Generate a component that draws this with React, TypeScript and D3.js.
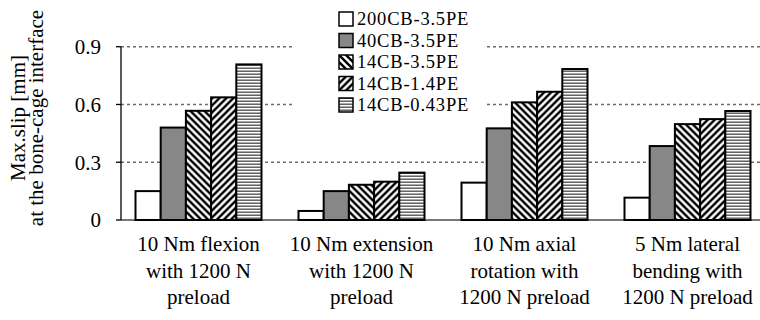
import React from "react";
import * as d3 from "d3";

// categories (x axis), one label per line
const categories = [
  ["10 Nm flexion", "with 1200 N", "preload"],
  ["10 Nm extension", "with 1200 N", "preload"],
  ["10 Nm axial", "rotation with", "1200 N preload"],
  ["5 Nm lateral", "bending with", "1200 N preload"],
];
const seriesNames = ["200CB-3.5PE", "40CB-3.5PE", "14CB-3.5PE", "14CB-1.4PE", "14CB-0.43PE"];
// values per series, one per category
const s200CB_35PE = [0.15, 0.047, 0.194, 0.116];
const s40CB_35PE = [0.48, 0.15, 0.476, 0.384];
const s14CB_35PE = [0.567, 0.183, 0.611, 0.498];
const s14CB_14PE = [0.637, 0.199, 0.666, 0.524];
const s14CB_043PE = [0.808, 0.246, 0.784, 0.566];
const yTicks = [0, 0.3, 0.6, 0.9];

const series = [s200CB_35PE, s40CB_35PE, s14CB_35PE, s14CB_14PE, s14CB_043PE];
const fills = ["#fff", "url(#pGray)", "url(#pBack)", "url(#pFwd)", "url(#pHoriz)"];

export default function App() {
  const width = 760;
  const height = 320;
  const axisX = 121;
  const font = "'Liberation Serif', 'Times New Roman', serif";
  const fs = 21;

  const x = d3
    .scaleBand()
    .domain(categories.map((d, i) => String(i)))
    .range([117, 769])
    .paddingInner(0.227)
    .paddingOuter(0.1135);
  const xs = d3
    .scaleBand()
    .domain(seriesNames)
    .range([0, x.bandwidth()]);
  const y = d3.scaleLinear().domain([0, 0.9]).range([220, 46.7]);

  return (
    <svg width={width} height={height} style={{ position: "absolute", left: 0, top: 0, background: "#fff" }}>
      <defs>
        <pattern id="pGray" width={2} height={2} patternUnits="userSpaceOnUse">
          <rect width={2} height={2} fill="#a8a8a8" />
          <rect width={1} height={1} fill="#666" />
          <rect x={1} y={1} width={1} height={1} fill="#666" />
        </pattern>
        <pattern id="pBack" width={7} height={7} patternUnits="userSpaceOnUse">
          <rect width={7} height={7} fill="#fff" />
          <path d="M-1,-1 L8,8 M-8,-1 L1,8 M6,-1 L15,8" stroke="#000" strokeWidth={2.4} />
        </pattern>
        <pattern id="pFwd" width={7} height={7} patternUnits="userSpaceOnUse">
          <rect width={7} height={7} fill="#fff" />
          <path d="M-1,8 L8,-1 M-8,8 L1,-1 M6,8 L15,-1" stroke="#000" strokeWidth={2.4} />
        </pattern>
        <pattern id="pHoriz" width={3} height={3} patternUnits="userSpaceOnUse">
          <rect width={3} height={3} fill="#fff" />
          <rect y={1.5} width={3} height={1.4} fill="#555" />
        </pattern>
      </defs>

      {/* gridlines */}
      {yTicks.slice(1).map((t) => (
        <line key={t} x1={axisX} x2={width} y1={y(t)} y2={y(t)} stroke="#6e6e6e" strokeWidth={1.6} strokeDasharray="3,3" />
      ))}
      {/* baseline */}
      <line x1={axisX} x2={width} y1={y(0)} y2={y(0)} stroke="#777" strokeWidth={2} />

      {/* bars */}
      {categories.map((c, i) => (
        <g key={i} transform={`translate(${x(String(i))},0)`}>
          {series.map((s, j) => (
            <rect
              key={j}
              x={xs(seriesNames[j])}
              y={y(s[i])}
              width={xs.bandwidth()}
              height={y(0) - y(s[i])}
              fill={fills[j]}
              stroke="#000"
              strokeWidth={2}
            />
          ))}
        </g>
      ))}

      {/* y axis */}
      <line x1={axisX} x2={axisX} y1={y(0.9)} y2={y(0)} stroke="#000" strokeWidth={1.3} />
      {yTicks.map((t) => (
        <g key={t}>
          <line x1={axisX - 5} x2={axisX} y1={y(t)} y2={y(t)} stroke="#000" strokeWidth={1.3} />
          <text x={101} y={y(t)} dy="0.35em" textAnchor="end" fontFamily={font} fontSize={fs}>
            {t === 0 ? "0" : String(t)}
          </text>
        </g>
      ))}

      {/* y title */}
      <text transform="translate(25,118) rotate(-90)" textAnchor="middle" fontFamily={font} fontSize={fs}>
        Max.slip [mm]
      </text>
      <text transform="translate(43,118) rotate(-90)" textAnchor="middle" fontFamily={font} fontSize={fs}>
        at the bone-cage interface
      </text>

      {/* category labels */}
      {categories.map((lines, i) => (
        <text key={i} textAnchor="middle" fontFamily={font} fontSize={fs}>
          {lines.map((l, k) => (
            <tspan key={k} x={(x(String(i)) as number) + x.bandwidth() / 2} y={251 + k * 26.5}>
              {l}
            </tspan>
          ))}
        </text>
      ))}

      {/* legend */}
      <rect x={293} y={0} width={194} height={118} fill="#fff" />
      {seriesNames.map((n, j) => (
        <g key={n} transform={`translate(339,${19 + j * 21.5})`}>
          <rect x={0} y={-7} width={14} height={14} fill={fills[j]} stroke="#000" strokeWidth={1.5} />
          <text x={18} y={0} dy="0.34em" fontFamily={font} fontSize={18.5} letterSpacing={0.8}>
            {n}
          </text>
        </g>
      ))}
    </svg>
  );
}
